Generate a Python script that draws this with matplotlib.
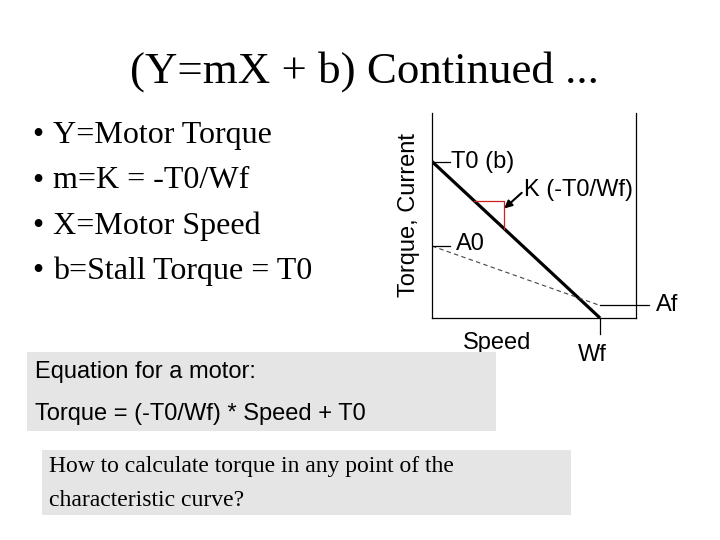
import matplotlib
matplotlib.use("Agg")
import matplotlib.pyplot as plt
from matplotlib.patches import Rectangle

# slide text
title = "(Y=mX + b) Continued ..."
bullets = ["Y=Motor Torque", "m=K = -T0/Wf", "X=Motor Speed", "b=Stall Torque = T0"]
eq_lines = ["Equation for a motor:", "Torque = (-T0/Wf) * Speed + T0"]
question = ["How to calculate torque in any point of the", "characteristic curve?"]

# motor characteristic (arbitrary units)
Wf = 100.0      # no-load speed
T0 = 100.0      # stall torque
A0 = 46.0       # stall current
Af = 8.0        # no-load current
speed_max = 121.4
torque_max = 131.0
slope_tri = [25.0, 43.0]   # speed range of the red slope triangle

W, H = 720, 540
fig = plt.figure(figsize=(7.2, 5.4), dpi=100)


def fx(x):
    return x / W


def fy(y):
    return 1 - y / H


serif = "Liberation Serif"
sans = "Liberation Sans"

fig.text(fx(364), fy(83), title, family=serif, fontsize=32.3, ha="center", va="baseline")

for i, b in enumerate(bullets):
    yb = 143 + i * 45.5
    fig.text(fx(32), fy(yb), "\u2022", family=serif, fontsize=23, ha="left", va="baseline")
    fig.text(fx(53), fy(yb), b, family=serif, fontsize=23, ha="left", va="baseline")

# chart
ax = fig.add_axes([fx(432), fy(318), fx(636) - fx(432), (318 - 113) / H])
ax.set_xlim(0, speed_max)
ax.set_ylim(0, torque_max)
ax.spines["top"].set_visible(False)
for s in ["left", "right", "bottom"]:
    ax.spines[s].set_linewidth(0.9)
ax.set_xticks([])
ax.set_yticks([])
ax.patch.set_alpha(0)

ax.plot([0, Wf], [T0, 0], color="black", lw=2.3, solid_capstyle="butt")
ax.plot([0, Wf], [A0, Af], color="#444444", lw=0.8, ls=(0, (4, 3)))

# slope triangle
t1 = T0 * (1 - slope_tri[0] / Wf)
t2 = T0 * (1 - slope_tri[1] / Wf)
ax.plot([slope_tri[0], slope_tri[1], slope_tri[1]], [t1, t1, t2], color="#cc2222", lw=0.9)
ax.annotate("", xy=(slope_tri[1], 70), xytext=(53.4, 80),
            arrowprops=dict(arrowstyle="-|>", color="black", lw=1.5, mutation_scale=11,
                            shrinkA=0, shrinkB=0))
ax.text(55, 82, "K (-T0/Wf)", family=sans, fontsize=17, ha="left", va="center")

# leaders
ax.plot([0, 11], [T0, T0], color="black", lw=0.9)
ax.text(11.5, T0 - 0.5, "T0 (b)", family=sans, fontsize=17, ha="left", va="center")
ax.plot([0, 11], [A0, A0], color="black", lw=0.9)
ax.text(14.5, A0 + 1.5, "A0", family=sans, fontsize=17, ha="left", va="center")
ax.plot([Wf, 129], [Af, Af], color="black", lw=0.9, clip_on=False)
ax.text(133, Af, "Af", family=sans, fontsize=17, ha="left", va="center", clip_on=False)
ax.plot([Wf, Wf], [0, -10.5], color="black", lw=0.9, clip_on=False)
ax.text(Wf - 4.5, -23.5, "Wf", family=sans, fontsize=17, ha="center", va="center", clip_on=False)
ax.text(38.5, -16, "Speed", family=sans, fontsize=17, ha="center", va="center", clip_on=False)
ax.text(-13.7, 66, "Torque, Current", family=sans, fontsize=17,
        rotation=90, ha="center", va="center", clip_on=False)

# grey boxes
fig.add_artist(Rectangle((fx(27), fy(431)), fx(496) - fx(27), (431 - 351.5) / H,
                         transform=fig.transFigure, facecolor="#e5e5e5", edgecolor="none", zorder=5))
fig.add_artist(Rectangle((fx(41.5), fy(515)), fx(571) - fx(41.5), (515 - 450) / H,
                         transform=fig.transFigure, facecolor="#e5e5e5", edgecolor="none", zorder=5))

fig.text(fx(35), fy(378), eq_lines[0], family=sans, fontsize=17, ha="left", va="baseline", zorder=6)
fig.text(fx(35), fy(420), eq_lines[1], family=sans, fontsize=17, ha="left", va="baseline", zorder=6)
fig.text(fx(49), fy(472), question[0], family=serif, fontsize=17, ha="left", va="baseline", zorder=6)
fig.text(fx(49), fy(505.5), question[1], family=serif, fontsize=17, ha="left", va="baseline", zorder=6)

fig.savefig("out.png", dpi=100)
